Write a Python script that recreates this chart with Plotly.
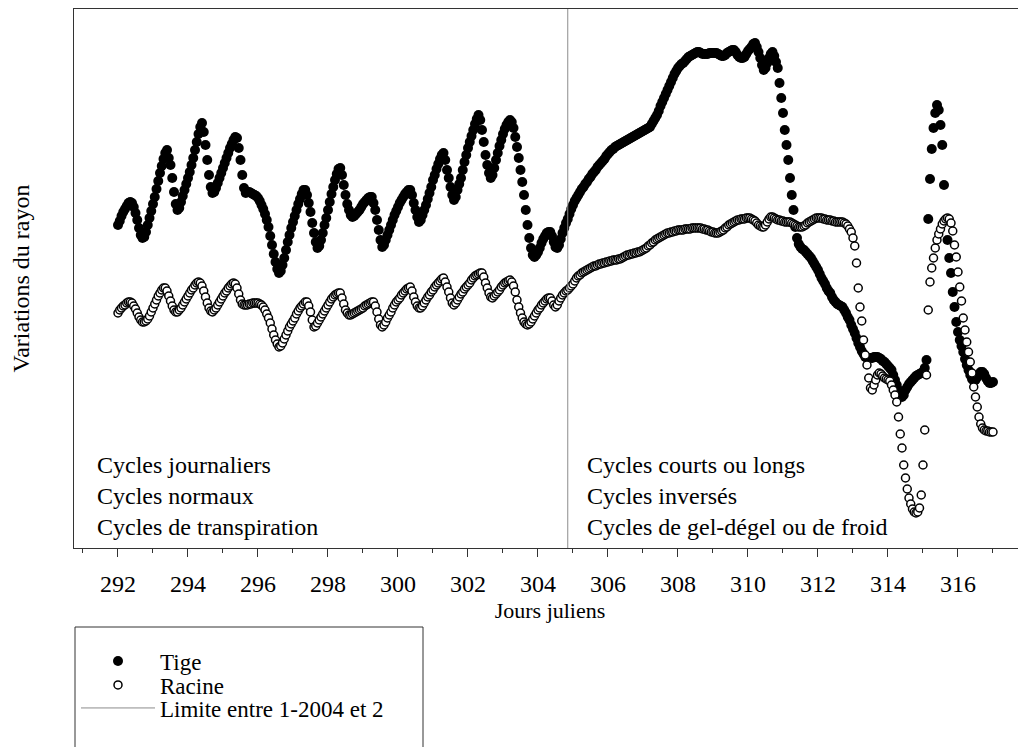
import plotly.graph_objects as go

# ---- Données ----
# Échantillonnage : jours juliens 292,00 -> 317,00, toutes les 0,05 j
jour_debut = 292.0
pas_jour = 0.05

# Variations du rayon de la tige (unités arbitraires)
tige = [
    325, 329, 334, 338, 341, 344, 347, 348, 347, 343, 337, 330, 322, 315, 312, 313, 318, 325, 332, 339,  # 292
    346, 353, 361, 369, 377, 384, 391, 397, 400, 392, 385, 372, 358, 346, 340, 342, 348, 354, 360, 366,  # 293
    372, 378, 385, 392, 400, 408, 416, 423, 427, 418, 405, 390, 375, 363, 357, 358, 362, 367, 372, 377,  # 294
    382, 387, 392, 397, 402, 406, 410, 413, 412, 402, 390, 375, 362, 357, 358, 358, 357, 356, 355, 354,  # 295
    352, 349, 345, 341, 336, 330, 323, 314, 305, 296, 288, 281, 277, 279, 285, 292, 300, 308, 315, 322,  # 296
    328, 334, 340, 346, 351, 356, 360, 360, 355, 347, 338, 327, 317, 308, 302, 304, 310, 317, 325, 332,  # 297
    340, 348, 356, 363, 370, 376, 381, 382, 375, 365, 355, 346, 340, 335, 333, 334, 336, 338, 340, 343,  # 298
    346, 348, 350, 352, 353, 353, 347, 340, 330, 320, 310, 303, 305, 310, 315, 320, 325, 330, 335, 339,  # 299
    343, 347, 350, 353, 356, 358, 360, 360, 355, 347, 340, 333, 328, 330, 335, 340, 345, 351, 357, 363,  # 300
    370, 375, 381, 386, 391, 395, 397, 390, 380, 372, 363, 355, 350, 353, 360, 366, 372, 380, 388, 395,  # 301
    402, 408, 414, 420, 426, 431, 435, 430, 420, 408, 395, 385, 377, 372, 375, 382, 390, 397, 404, 410,  # 302
    416, 421, 425, 428, 430, 428, 422, 413, 403, 392, 380, 368, 355, 340, 325, 312, 302, 295, 293, 295,  # 303
    298, 302, 307, 311, 314, 317, 318, 318, 314, 308, 303, 302, 305, 311, 317, 322, 327, 331, 336, 341,  # 304
    345, 349, 352, 355, 358, 361, 363, 366, 368, 371, 373, 376, 378, 380, 383, 385, 387, 389, 391, 394,  # 305
    396, 398, 400, 401, 403, 404, 405, 406, 407, 408, 409, 410, 411, 412, 413, 414, 415, 416, 417, 418,  # 306
    419, 420, 421, 422, 423, 426, 429, 432, 435, 439, 444, 448, 452, 456, 460, 464, 468, 472, 476, 479,  # 307
    482, 484, 486, 487, 489, 491, 493, 494, 495, 496, 497, 498, 498, 497, 496, 496, 496, 496, 497, 497,  # 308
    497, 497, 497, 496, 495, 494, 494, 495, 497, 498, 499, 500, 500, 498, 495, 493, 492, 492, 493, 496,  # 309
    499, 501, 503, 506, 507, 503, 498, 492, 485, 480, 482, 487, 492, 496, 498, 494, 488, 482, 467, 452,  # 310
    437, 420, 405, 390, 372, 355, 340, 323, 312, 306, 303, 301, 300, 298, 296, 294, 292, 289, 286, 283,  # 311
    280, 276, 272, 269, 266, 262, 259, 257, 253, 250, 248, 246, 245, 244, 243, 240, 237, 233, 230, 225,  # 312
    221, 217, 212, 207, 203, 199, 196, 193, 192, 192, 192, 192, 193, 193, 193, 192, 191, 189, 188, 186,  # 313
    184, 182, 180, 175, 170, 165, 160, 155, 153, 155, 160, 163, 166, 168, 170, 172, 174, 175, 176, 177,  # 314
    178, 182, 190, 331, 371, 401, 422, 437, 445, 440, 425, 405, 365, 330, 310, 292, 277, 258, 243, 228,  # 315
    218, 210, 204, 198, 191, 185, 180, 175, 171, 169, 170, 173, 176, 178, 178, 176, 172, 169, 167, 167,  # 316
    168,                                                                                                # 317
]

# Variations du rayon de la racine (unités arbitraires)
racine = [
    237, 240, 242, 244, 245, 247, 248, 248, 247, 244, 241, 237, 233, 230, 228, 228, 229, 231, 234, 238,  # 292
    242, 246, 250, 254, 257, 260, 262, 262, 259, 254, 249, 244, 240, 238, 238, 240, 242, 245, 248, 251,  # 293
    254, 257, 260, 262, 265, 267, 268, 267, 264, 259, 253, 247, 242, 239, 238, 240, 242, 245, 248, 251,  # 294
    254, 257, 259, 262, 264, 266, 267, 266, 262, 256, 250, 246, 245, 245, 245, 246, 246, 247, 247, 247,  # 295
    247, 246, 245, 243, 240, 236, 232, 227, 221, 215, 210, 206, 203, 204, 207, 211, 215, 219, 223, 226,  # 296
    229, 232, 236, 239, 242, 244, 246, 248, 248, 244, 238, 230, 223, 224, 227, 230, 233, 236, 239, 242,  # 297
    245, 248, 251, 253, 255, 256, 257, 257, 252, 246, 240, 237, 235, 235, 236, 237, 238, 239, 240, 241,  # 298
    242, 244, 245, 246, 247, 248, 248, 244, 238, 231, 225, 223, 225, 228, 232, 235, 238, 242, 245, 248,  # 299
    250, 252, 255, 257, 259, 261, 262, 263, 259, 253, 248, 244, 242, 242, 244, 247, 250, 253, 255, 258,  # 300
    260, 263, 265, 267, 269, 271, 272, 268, 263, 258, 252, 247, 245, 247, 250, 253, 256, 258, 261, 263,  # 301
    265, 267, 270, 272, 274, 275, 276, 277, 277, 273, 267, 262, 257, 253, 252, 254, 256, 258, 260, 263,  # 302
    265, 267, 268, 269, 270, 268, 264, 258, 250, 243, 237, 232, 228, 226, 225, 226, 228, 231, 234, 237,  # 303
    240, 242, 245, 247, 249, 251, 252, 252, 249, 245, 243, 245, 249, 252, 255, 257, 259, 260, 262, 264,  # 304
    266, 269, 272, 274, 275, 277, 278, 279, 280, 281, 282, 283, 284, 284, 285, 286, 286, 287, 287, 288,  # 305
    288, 289, 289, 290, 290, 290, 291, 291, 292, 293, 294, 295, 295, 296, 296, 297, 297, 298, 298, 299,  # 306
    300, 301, 302, 304, 305, 307, 308, 310, 311, 312, 313, 314, 315, 316, 317, 317, 318, 318, 319, 319,  # 307
    320, 320, 320, 320, 321, 321, 321, 321, 322, 322, 322, 322, 322, 322, 321, 321, 320, 320, 319, 318,  # 308
    318, 317, 317, 317, 318, 319, 320, 322, 323, 325, 326, 327, 328, 329, 330, 330, 331, 331, 331, 332,  # 309
    332, 332, 331, 330, 329, 327, 325, 324, 323, 323, 325, 328, 331, 333, 333, 332, 331, 330, 330, 329,  # 310
    329, 328, 328, 328, 328, 327, 326, 325, 324, 323, 323, 323, 324, 325, 327, 328, 329, 330, 331, 332,  # 311
    332, 332, 332, 331, 331, 330, 330, 330, 329, 329, 328, 328, 328, 328, 328, 327, 326, 324, 321, 318,  # 312
    312, 304, 287, 262, 243, 229, 210, 195, 185, 172, 162, 160, 165, 170, 175, 177, 176, 174, 172, 171,  # 313
    170, 169, 165, 160, 155, 148, 133, 116, 102, 85, 72, 61, 52, 46, 41, 38, 37, 38, 42, 55,            # 314
    85, 120, 175, 240, 268, 282, 292, 302, 310, 316, 321, 326, 329, 331, 332, 331, 327, 319, 305, 293,  # 315
    278, 263, 249, 232, 220, 208, 198, 188, 177, 163, 153, 143, 133, 126, 122, 120, 119, 119, 118, 118,  # 316
    118,                                                                                                # 317
]

# Limite entre les deux périodes
limite_jour = 304.85

# Graduations
ticks_x = [292, 294, 296, 298, 300, 302, 304, 306, 308, 310, 312, 314, 316]

textes_gauche = ["Cycles journaliers", "Cycles normaux", "Cycles de transpiration"]
textes_droite = ["Cycles courts ou longs", "Cycles inversés", "Cycles de gel-dégel ou de froid"]

tige_jours = [round(jour_debut + pas_jour * i, 2) for i in range(len(tige))]
racine_jours = [round(jour_debut + pas_jour * i, 2) for i in range(len(racine))]

# ---- Mise en page ----
# La page HTML décale la figure de 8 px (marge du body) : on compense.
OFF = 8
W, H = 1018, 739
ML, MR, MT, MB = 66, 0, 1, 199
PW = W - ML - MR          # 952
PH = H - MT - MB          # 539
X_RANGE = [290.743, 317.943]
Y_RANGE = [2, 541]
SERIF = "Liberation Serif, Times New Roman, DejaVu Serif, Noto Serif, serif"
AXC = "#333333"


def px_to_paper_x(px):
    return (px - OFF - ML) / PW


def px_to_paper_y(py):
    return (OFF + MT + PH - py) / PH


fig = go.Figure()

fig.add_trace(go.Scatter(
    x=tige_jours, y=tige, mode="markers", name="Tige", legend="legend",
    marker=dict(symbol="circle", size=10, color="black", line=dict(width=0)),
))
fig.add_trace(go.Scatter(
    x=racine_jours, y=racine, mode="markers", name="Racine", legend="legend2",
    marker=dict(symbol="circle", size=8, color="white", line=dict(width=1.5, color="black")),
))
fig.add_trace(go.Scatter(
    x=[limite_jour, limite_jour], y=Y_RANGE, mode="lines",
    name="Limite entre 1-2004 et 2", legend="legend3",
    line=dict(color="#8c8c8c", width=1),
))

# Texte des périodes
fig.add_annotation(
    x=291.343, y=54, xref="x", yref="y", xanchor="left", yanchor="middle",
    align="left", showarrow=False, text="<br>".join(textes_gauche),
    font=dict(family=SERIF, size=24, color="black"),
)
fig.add_annotation(
    x=305.34, y=54, xref="x", yref="y", xanchor="left", yanchor="middle",
    align="left", showarrow=False, text="<br>".join(textes_droite),
    font=dict(family=SERIF, size=24, color="black"),
)

# Cadre de la légende (coupé en bas comme sur l'original)
fig.add_shape(
    type="rect", xref="paper", yref="paper",
    x0=px_to_paper_x(75), x1=px_to_paper_x(423),
    y0=px_to_paper_y(627), y1=px_to_paper_y(770),
    line=dict(color=AXC, width=1), fillcolor="rgba(0,0,0,0)",
)


def legende(py_centre):
    return dict(
        x=px_to_paper_x(76), xanchor="left",
        y=px_to_paper_y(py_centre), yanchor="middle",
        bgcolor="rgba(0,0,0,0)", borderwidth=0,
        itemwidth=74,
        font=dict(family=SERIF, size=23, color="black"),
    )


fig.update_layout(
    width=W, height=H,
    margin=dict(l=ML, r=MR, t=MT, b=MB, autoexpand=False),
    paper_bgcolor="white", plot_bgcolor="white",
    font=dict(family=SERIF, size=24, color="black"),
    showlegend=True,
    legend=legende(661),
    legend2=legende(685),
    legend3=legende(708),
    xaxis=dict(
        range=X_RANGE, showgrid=False, zeroline=False,
        showline=True, linecolor=AXC, linewidth=1, mirror=True,
        ticks="outside", ticklen=8, tickcolor=AXC, tickwidth=1,
        tickvals=ticks_x, ticklabelstandoff=6,
        tickfont=dict(family=SERIF, size=24, color="black"),
        minor=dict(dtick=1, ticks="outside", ticklen=4, tickcolor=AXC, tickwidth=1),
        title=dict(text="Jours juliens", standoff=6,
                   font=dict(family=SERIF, size=22, color="black")),
    ),
    yaxis=dict(
        range=Y_RANGE, showgrid=False, zeroline=False,
        showline=True, linecolor=AXC, linewidth=1, mirror=True,
        ticks="", showticklabels=False,
        title=dict(text="Variations du rayon", standoff=36,
                   font=dict(family=SERIF, size=24, color="black")),
    ),
)

fig.write_html("out.html")
